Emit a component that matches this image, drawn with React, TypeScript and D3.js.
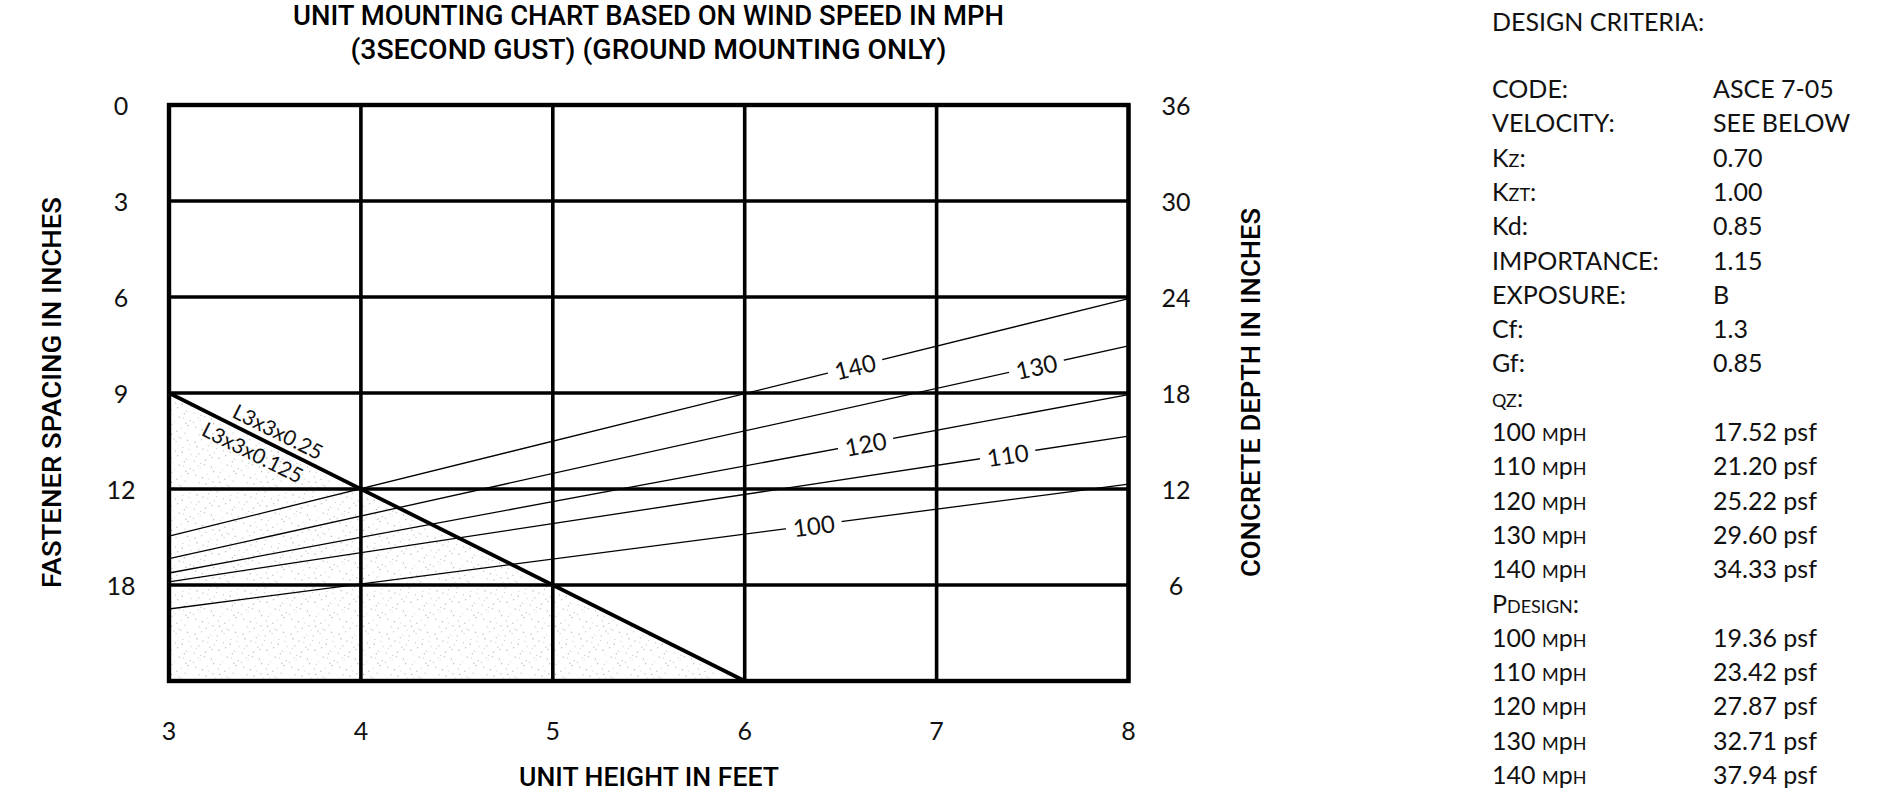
import React from "react";
import * as d3 from "d3";

const W = 1894;
const H = 807;

// ---- chart data ----
const unitHeights = [3, 4, 5, 6, 7, 8];
const depthGrid = [0, 6, 12, 18, 24, 30, 36];
const fastenerLabels = ["0", "3", "6", "9", "12", "18"];
const depthLabels = [36, 30, 24, 18, 12, 6];

const windSpeeds = [100, 110, 120, 130, 140];
const windLineX = [3, 8];
const wind100 = [4.5, 12.3];
const wind110 = [6.2, 15.3];
const wind120 = [6.75, 17.9];
const wind130 = [7.65, 20.95];
const wind140 = [9.05, 23.9];
const windSeries = [wind100, wind110, wind120, wind130, wind140];
const windLabelAt = [6.36, 7.37, 6.63, 7.52, 6.575];

const limitX = [3, 6];
const limitDepth = [18, 0];
const shadeX = [3, 6, 3];
const shadeDepth = [18, 0, 0];
const limitLabels = ["L3x3x0.25", "L3x3x0.125"];
const limitLabelAt = [3.535, 3.473];

const qzValues = [17.52, 21.2, 25.22, 29.6, 34.33];
const pDesignValues = [19.36, 23.42, 27.87, 32.71, 37.94];

const FONT = "Lato, 'Open Sans', sans-serif";
const TITLE_FONT = "Roboto, 'Liberation Sans', sans-serif";

function halton(i: number, b: number) {
  let f = 1, r = 0;
  while (i > 0) {
    f = f / b;
    r = r + f * (i % b);
    i = Math.floor(i / b);
  }
  return r;
}

const TILE = 48;
const stippleDots = d3.range(1, 60).map((i) => ({
  cx: halton(i, 2) * TILE,
  cy: halton(i, 3) * TILE,
  o: 0.25 + 0.45 * halton(i, 5),
}));

type Seg = [string, boolean];
function Label({ segs, x, y }: { segs: Seg[]; x: number; y: number }) {
  return (
    <text x={x} y={y} fontFamily={FONT} fontSize={25} fontWeight={400} fill="#111">
      {segs.map((s, i) => (
        <tspan key={i} style={s[1] ? { fontVariant: "small-caps" } : undefined}>
          {s[0]}
        </tspan>
      ))}
    </text>
  );
}

const mph: Seg[] = [[" m", true], ["p", false], ["h", true]];

export default function App() {
  const x = d3.scaleLinear().domain([3, 8]).range([169, 1128.5]);
  const y = d3.scaleLinear().domain([0, 36]).range([681, 105]);

  const line = d3
    .line<number>()
    .x((_, i) => x(windLineX[i]))
    .y((d) => y(d));

  const limitLine = d3
    .line<number>()
    .x((_, i) => x(limitX[i]))
    .y((d) => y(d));

  const shadePath = d3
    .line<number>()
    .x((_, i) => x(shadeX[i]))
    .y((d) => y(d))(shadeDepth) + "Z";

  const limitAngle =
    (Math.atan2(y(limitDepth[1]) - y(limitDepth[0]), x(limitX[1]) - x(limitX[0])) * 180) / Math.PI;
  const limitRad = (limitAngle * Math.PI) / 180;
  const nx = Math.sin(limitRad);
  const ny = -Math.cos(limitRad);
  const limitSlope = (limitDepth[1] - limitDepth[0]) / (limitX[1] - limitX[0]);

  const rows: { l: Seg[]; r: string }[] = [
    { l: [["CODE:", false]], r: "ASCE 7-05" },
    { l: [["VELOCITY:", false]], r: "SEE BELOW" },
    { l: [["K", false], ["z", true], [":", false]], r: "0.70" },
    { l: [["K", false], ["zt", true], [":", false]], r: "1.00" },
    { l: [["Kd:", false]], r: "0.85" },
    { l: [["IMPORTANCE:", false]], r: "1.15" },
    { l: [["EXPOSURE:", false]], r: "B" },
    { l: [["Cf:", false]], r: "1.3" },
    { l: [["Gf:", false]], r: "0.85" },
    { l: [["qz", true], [":", false]], r: "" },
    ...windSpeeds.map((s, i) => ({
      l: [[String(s), false] as Seg, ...mph],
      r: qzValues[i].toFixed(2) + " psf",
    })),
    { l: [["P", false], ["design", true], [":", false]], r: "" },
    ...windSpeeds.map((s, i) => ({
      l: [[String(s), false] as Seg, ...mph],
      r: pDesignValues[i].toFixed(2) + " psf",
    })),
  ];

  return (
    <svg
      width={W}
      height={H}
      viewBox={`0 0 ${W} ${H}`}
      style={{ position: "absolute", left: 0, top: 0, background: "#fff" }}
    >
      <defs>
        <pattern id="stipple" width={TILE} height={TILE} patternUnits="userSpaceOnUse">
          <rect width={TILE} height={TILE} fill="#fff" />
          {stippleDots.map((d, i) => (
            <rect key={i} x={d.cx} y={d.cy} width={1.2} height={1.2} fill="#888" opacity={d.o} />
          ))}
        </pattern>
      </defs>
      <rect width={W} height={H} fill="#fff" />

      {/* title */}
      <text x={648.5} y={25} textAnchor="middle" fontFamily={TITLE_FONT} fontWeight={500} fontSize={27}
        textLength={711} lengthAdjust="spacingAndGlyphs" fill="#000">
        UNIT MOUNTING CHART BASED ON WIND SPEED IN MPH
      </text>
      <text x={648.5} y={58.5} textAnchor="middle" fontFamily={TITLE_FONT} fontWeight={500} fontSize={27}
        textLength={596} lengthAdjust="spacingAndGlyphs" fill="#000">
        (3SECOND GUST) (GROUND MOUNTING ONLY)
      </text>

      {/* shaded region */}
      <path d={shadePath} fill="url(#stipple)" stroke="none" />

      {/* wind speed lines */}
      {windSeries.map((s, i) => (
        <path key={i} d={line(s) || ""} fill="none" stroke="#000" strokeWidth={1.3} />
      ))}

      {/* grid */}
      {depthGrid.map((d) => (
        <line key={"h" + d} x1={x(3)} x2={x(8)} y1={y(d)} y2={y(d)} stroke="#000" strokeWidth={3.6} />
      ))}
      {unitHeights.map((h) => (
        <line key={"v" + h} x1={x(h)} x2={x(h)} y1={y(0)} y2={y(36)} stroke="#000" strokeWidth={3.6} />
      ))}
      <rect x={x(3)} y={y(36)} width={x(8) - x(3)} height={y(0) - y(36)} fill="none" stroke="#000"
        strokeWidth={4.4} />

      {/* limit diagonal */}
      <path d={limitLine(limitDepth) || ""} fill="none" stroke="#000" strokeWidth={3.8} />
      {limitLabels.map((t, i) => {
        const fx = limitLabelAt[i];
        const px = x(fx);
        const py = y(limitDepth[0] + limitSlope * (fx - limitX[0]));
        const off = i === 0 ? 15 : -15;
        const cx = px + nx * off;
        const cy = py + ny * off;
        return (
          <text key={t} x={cx} y={cy} transform={`rotate(${limitAngle} ${cx} ${cy})`} textAnchor="middle"
            dominantBaseline="central" fontFamily={FONT} fontWeight={400} fontSize={21} fill="#111">
            {t}
          </text>
        );
      })}

      {/* wind labels */}
      {windSeries.map((s, i) => {
        const fx = windLabelAt[i];
        const t = (fx - windLineX[0]) / (windLineX[1] - windLineX[0]);
        const cx = x(fx);
        const cy = y(s[0] + (s[1] - s[0]) * t);
        const ang = (Math.atan2(y(s[1]) - y(s[0]), x(windLineX[1]) - x(windLineX[0])) * 180) / Math.PI;
        return (
          <g key={"wl" + i} transform={`rotate(${ang} ${cx} ${cy})`}>
            <rect x={cx - 28} y={cy - 5} width={56} height={10} fill="#fff" />
            <text x={cx} y={cy} textAnchor="middle" dominantBaseline="central" fontFamily={FONT}
              fontWeight={400} fontSize={24} fill="#111">
              {windSpeeds[i]}
            </text>
          </g>
        );
      })}

      {/* left ticks */}
      {fastenerLabels.map((t, i) => (
        <text key={"fl" + t} x={121} y={y(depthLabels[i])} textAnchor="middle" dominantBaseline="central"
          fontFamily={FONT} fontWeight={400} fontSize={25} fill="#111">
          {t}
        </text>
      ))}
      {/* right ticks */}
      {depthLabels.map((d) => (
        <text key={"dl" + d} x={1176} y={y(d)} textAnchor="middle" dominantBaseline="central"
          fontFamily={FONT} fontWeight={400} fontSize={25} fill="#111">
          {d}
        </text>
      ))}
      {/* bottom ticks */}
      {unitHeights.map((h) => (
        <text key={"bl" + h} x={x(h)} y={730} textAnchor="middle" dominantBaseline="central"
          fontFamily={FONT} fontWeight={400} fontSize={25} fill="#111">
          {h}
        </text>
      ))}

      {/* axis titles */}
      <text x={649} y={777} textAnchor="middle" dominantBaseline="central" fontFamily={TITLE_FONT}
        fontWeight={500} fontSize={26} textLength={260} lengthAdjust="spacingAndGlyphs" fill="#000">
        UNIT HEIGHT IN FEET
      </text>
      <text x={52} y={392.5} transform="rotate(-90 52 392.5)" textAnchor="middle" dominantBaseline="central"
        fontFamily={TITLE_FONT} fontWeight={500} fontSize={26} textLength={391}
        lengthAdjust="spacingAndGlyphs" fill="#000">
        FASTENER SPACING IN INCHES
      </text>
      <text x={1251} y={392.5} transform="rotate(-90 1251 392.5)" textAnchor="middle"
        dominantBaseline="central" fontFamily={TITLE_FONT} fontWeight={500} fontSize={26} textLength={369}
        lengthAdjust="spacingAndGlyphs" fill="#000">
        CONCRETE DEPTH IN INCHES
      </text>

      {/* design criteria */}
      <text x={1492} y={31} fontFamily={FONT} fontSize={25} fontWeight={400} fill="#111">
        DESIGN CRITERIA:
      </text>
      {rows.map((r, i) => {
        const by = 98 + 34.3 * i;
        return (
          <g key={"row" + i}>
            <Label segs={r.l} x={1492} y={by} />
            {r.r && (
              <text x={1713} y={by} fontFamily={FONT} fontSize={25} fontWeight={400} fill="#111">
                {r.r}
              </text>
            )}
          </g>
        );
      })}
    </svg>
  );
}
